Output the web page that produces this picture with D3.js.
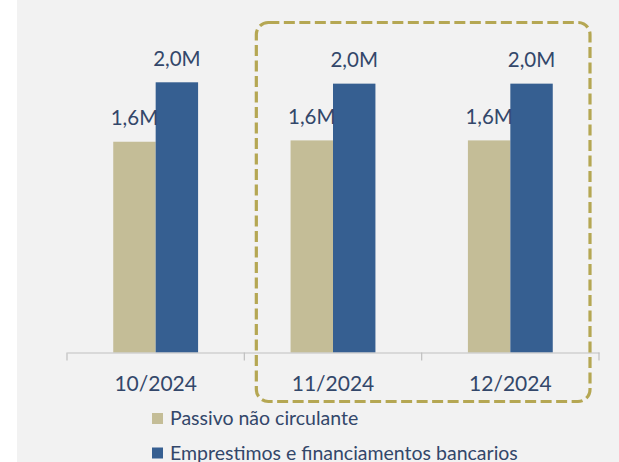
<!DOCTYPE html>
<html>
<head>
<meta charset="utf-8">
<script src="https://cdn.jsdelivr.net/npm/d3@7"></script>
<style>
  body { margin: 0; background: #ffffff; }
  svg { display: block; }
  text { font-family: Lato, "Open Sans", sans-serif; fill: #33476a; }
</style>
</head>
<body>
<script>
// chart values
var categories = ["10/2024", "11/2024", "12/2024"];
var seriesNames = ["Passivo não circulante", "Emprestimos e financiamentos bancarios"];
var passivo = [1.56, 1.57, 1.57];
var emprestimos = [2.00, 1.99, 1.99];
var valueLabels = [["1,6M", "1,6M", "1,6M"], ["2,0M", "2,0M", "2,0M"]];
var colors = ["#c4bd97", "#365f91"];
var highlighted = ["11/2024", "12/2024"];

function main() {
  var w = 619, h = 462;
  var svg = d3.select("body").append("svg")
    .attr("width", w)
    .attr("height", h);

  svg.append("rect")
    .attr("x", 17).attr("y", 0)
    .attr("width", w - 17).attr("height", h)
    .attr("fill", "#f2f2f2");

  var base = 352.5;
  var x = d3.scaleBand().domain(categories).range([67, 599]).padding(0);
  var x1 = d3.scaleBand().domain([0, 1]).range([0, x.bandwidth()]).paddingInner(0).paddingOuter(1.09);
  var y = d3.scaleLinear().domain([0, 2.0]).range([base, 82.3]);

  var series = [passivo, emprestimos];

  // bars
  for (var s = 0; s < series.length; s++) {
    var g = svg.append("g");
    g.selectAll("rect")
      .data(series[s])
      .enter()
      .append("rect")
      .attr("x", function(d, i) { return x(categories[i]) + x1(s); })
      .attr("y", function(d) { return y(d); })
      .attr("width", x1.bandwidth())
      .attr("height", function(d) { return base - y(d); })
      .attr("fill", colors[s]);
  }

  // value labels
  for (s = 0; s < series.length; s++) {
    svg.append("g").selectAll("text")
      .data(series[s])
      .enter()
      .append("text")
      .attr("x", function(d, i) { return x(categories[i]) + x1(s) + x1.bandwidth() / 2; })
      .attr("y", function(d) { return y(d) - 16.5; })
      .attr("text-anchor", "middle")
      .style("font-size", "20.5px")
      .text(function(d, i) { return valueLabels[s][i]; });
  }

  // axis line and tick marks at band edges
  var axis = svg.append("g").attr("transform", "translate(0," + base + ")");
  axis.call(d3.axisBottom(x).tickSize(0).tickPadding(24));
  axis.select(".domain").attr("stroke", "#bfbfbf").attr("stroke-width", 1.2);
  axis.selectAll(".tick text")
    .style("font-size", "21px")
    .style("font-family", "Lato, sans-serif")
    .attr("fill", "#33476a");
  var edges = categories.map(function(c) { return x(c); }).concat([x.range()[1]]);
  axis.selectAll(".edge")
    .data(edges)
    .enter()
    .append("line")
    .attr("x1", function(d) { return d; })
    .attr("x2", function(d) { return d; })
    .attr("y1", 0)
    .attr("y2", 8)
    .attr("stroke", "#bfbfbf")
    .attr("stroke-width", 1.2);

  // dashed highlight box
  var hx0 = x(highlighted[0]) + 12;
  var hx1 = x(highlighted[highlighted.length - 1]) + x.bandwidth() - 9;
  svg.append("rect")
    .attr("x", hx0).attr("y", 22.5)
    .attr("width", hx1 - hx0).attr("height", 379)
    .attr("rx", 12).attr("ry", 12)
    .attr("fill", "none")
    .attr("stroke", "#b5a753")
    .attr("stroke-width", 3.2)
    .attr("stroke-dasharray", "11,4.5");

  // legend
  var legend = svg.append("g").attr("transform", "translate(152,413)");
  var items = legend.selectAll("g")
    .data(seriesNames)
    .enter()
    .append("g")
    .attr("transform", function(d, i) { return "translate(0," + (i * 34.5) + ")"; });
  items.append("rect")
    .attr("width", 11).attr("height", 11)
    .attr("fill", function(d, i) { return colors[i]; });
  items.append("text")
    .attr("x", 18)
    .attr("y", 12)
    .style("font-size", "19.5px")
    .text(function(d) { return d; });
}

main();
</script>
</body>
</html>
